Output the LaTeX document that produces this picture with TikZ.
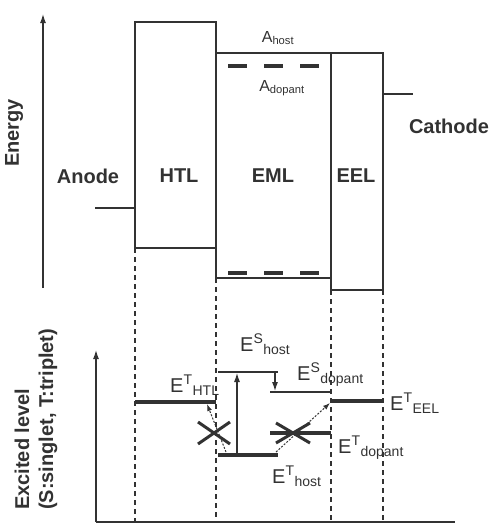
\documentclass[tikz,border=0pt]{standalone}
\usepackage{fontspec}
\setmainfont{Liberation Sans}
\usetikzlibrary{arrows.meta, positioning}
\definecolor{ink}{RGB}{50,50,50}
\newcommand{\elev}[3]{E\textsuperscript{#2}\textsubscript{#3}}

\begin{document}
\begin{tikzpicture}[
  x=1pt, y=-1pt,
  every node/.style={text=ink, inner sep=0pt},
  box/.style={draw=ink, line width=1.3pt},
  wire/.style={draw=ink, line width=1.2pt},
  guide/.style={draw=ink, line width=1.1pt, dash pattern=on 5pt off 4pt},
  tlevel/.style={draw=ink, line width=3.2pt},
  slevel/.style={draw=ink, line width=2pt},
  dashlevel/.style={draw=ink, line width=3.5pt, dash pattern=on 19pt off 17pt},
  hop/.style={draw=ink, line width=1pt, dash pattern=on 2pt off 1.5pt, -{Latex[length=7pt,width=5pt]}},
  cross/.style={draw=ink, line width=3pt},
  layer/.style={font=\fontsize{20}{24}\selectfont\bfseries},
  lvl/.style={font=\fontsize{20}{24}\selectfont, anchor=base west},
  >={Latex[length=9pt,width=6pt]}
]
  \useasboundingbox (0,0) rectangle (493,525);

  % --- Energy diagram ---
  \coordinate (eBot) at (43,288);
  \coordinate (eTop) at (43,14);
  \draw[wire, ->] (eBot) -- (eTop);
  \node[layer, rotate=90] (energy) at (14,133) {Energy};

  \draw[box] (135,22) rectangle (216,248);
  \draw[box] (216,53) rectangle (331,278);
  \draw[box] (331,53) rectangle (383,290);
  \draw[dashlevel] (228,66) -- (331,66);
  \draw[dashlevel] (228,273) -- (331,273);

  \coordinate (anodeL) at (95,208);
  \coordinate (anodeR) at (135,208);
  \coordinate (cathL) at (383,94);
  \coordinate (cathR) at (413,94);
  \draw[wire] (anodeL) -- (anodeR);
  \draw[wire] (cathL) -- (cathR);

  \node[layer] (anode) at (88,176) {Anode};
  \node[layer] (htl) at (179,176) {HTL};
  \node[layer] (eml) at (273,176) {EML};
  \node[layer] (eel) at (356,176) {EEL};
  \node[layer] (cathode) at (449,126) {Cathode};
  \node[font=\fontsize{16}{19}\selectfont] (ahost) at (278,38) {A\textsubscript{host}};
  \node[font=\fontsize{16}{19}\selectfont] (adopant) at (282,88) {A\textsubscript{dopant}};

  % dashed guides down to the excited levels
  \draw[guide] (135,248) -- (135,522);
  \draw[guide] (216,278) -- (216,522);
  \draw[guide] (331,290) -- (331,522);
  \draw[guide] (383,290) -- (383,522);

  % --- Excited levels ---
  \coordinate (xBot) at (96,522);
  \coordinate (xTop) at (96,350);
  \coordinate (xEnd) at (455,522);
  \draw[wire] (xBot) -- (xEnd);
  \draw[wire, ->] (xBot) -- (xTop);
  \node[layer, rotate=90, anchor=west] (excited) at (22,510) {Excited level};
  \node[layer, rotate=90, anchor=west] (spin) at (48,510) {(S:singlet, T:triplet)};

  \coordinate (htlTw) at (135,402);    \coordinate (htlTe) at (216,402);
  \coordinate (hostSw) at (218,372);   \coordinate (hostSe) at (278,372);
  \coordinate (dopSw) at (270,392);    \coordinate (dopSe) at (331,392);
  \coordinate (hostTw) at (218,455);   \coordinate (hostTe) at (278,455);
  \coordinate (dopTw) at (270,433);    \coordinate (dopTe) at (331,433);
  \coordinate (eelTw) at (331,401);    \coordinate (eelTe) at (383,401);

  \draw[tlevel] (htlTw) -- (htlTe);
  \draw[slevel] (hostSw) -- (hostSe);
  \draw[slevel] (dopSw) -- (dopSe);
  \draw[tlevel] (hostTw) -- (hostTe);
  \draw[tlevel] (dopTw) -- (dopTe);
  \draw[tlevel] (eelTw) -- (eelTe);

  % transfers
  \coordinate (upS) at (237,373);
  \coordinate (upT) at (237,454);
  \coordinate (dnS) at (275,373);
  \coordinate (dnD) at (275,391);
  \draw[wire, line width=1.1pt, ->] (upT) -- (upS);
  \draw[wire, line width=1.1pt, ->] (dnS) -- (dnD);
  \coordinate (hopA) at (226,452);
  \coordinate (hopB) at (207,404);
  \coordinate (hopC) at (276,452);
  \coordinate (hopD) at (330,403);
  \draw[hop] (hopA) -- (hopB);
  \draw[hop] (hopC) -- (hopD);

  % blocked paths
  \draw[cross] (198,422) -- (230,444) (198,444) -- (230,422);
  \draw[cross] (276,423) -- (310,443) (276,443) -- (310,423);

  \node[lvl] (lHtl) at (170,392) {\elev{E}{T}{HTL}};
  \node[lvl] (lHostS) at (240,351) {\elev{E}{S}{host}};
  \node[lvl] (lDopS) at (297,380) {\elev{E}{S}{dopant}};
  \node[lvl] (lEel) at (390,410) {\elev{E}{T}{EEL}};
  \node[lvl] (lDopT) at (338,453) {\elev{E}{T}{dopant}};
  \node[lvl] (lHostT) at (272,483) {\elev{E}{T}{host}};
\end{tikzpicture}
\end{document}
